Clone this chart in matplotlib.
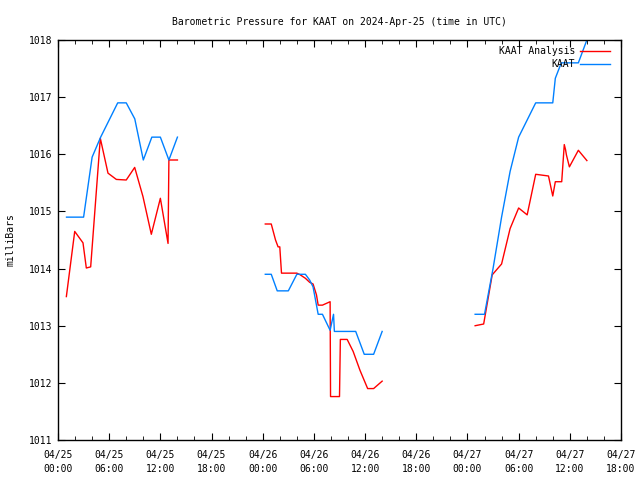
import numpy as np
import matplotlib
matplotlib.use('Agg')
import matplotlib.pyplot as plt

# hours since 2024-04-25 00:00 UTC, nan = gap in the record
anl_hours = [0.98, 1.96, 2.93, 3.32, 3.83, 4.96, 5.86, 6.84, 8.0, 8.99, 9.96, 10.94, 12.0, 12.9, 13.0, 14.0,
             np.nan,
             24.3, 25.0, 25.5, 25.8, 26.0, 26.2, 28.0, 28.4, 29.0, 29.5, 29.9, 30.3, 30.5, 31.0, 31.9, 31.95,
             33.0, 33.1, 33.9, 34.6, 35.4, 36.3, 37.0, 38.0,
             np.nan,
             48.9, 49.9, 50.9, 52.0, 53.0, 54.0, 55.0, 56.0, 57.5, 58.0, 58.3, 59.05, 59.35, 59.5, 59.6,
             59.95, 61.0, 62.0]
anl_mb = [1013.51, 1014.65, 1014.45, 1014.01, 1014.03, 1016.28, 1015.67, 1015.56, 1015.55, 1015.77,
          1015.26, 1014.60, 1015.23, 1014.44, 1015.90, 1015.90,
          np.nan,
          1014.78, 1014.78, 1014.50, 1014.38, 1014.38, 1013.92, 1013.92, 1013.89, 1013.83, 1013.76,
          1013.73, 1013.54, 1013.36, 1013.36, 1013.42, 1011.76, 1011.76, 1012.76, 1012.76, 1012.55,
          1012.22, 1011.90, 1011.90, 1012.03,
          np.nan,
          1013.00, 1013.03, 1013.89, 1014.08, 1014.70, 1015.06, 1014.94, 1015.65, 1015.62, 1015.27,
          1015.52, 1015.52, 1016.17, 1016.08, 1015.99, 1015.78, 1016.07, 1015.89]

obs_hours = [1.0, 2.0, 3.0, 4.0, 5.0, 6.0, 7.0, 8.0, 9.0, 10.0, 11.0, 12.0, 13.0, 14.0,
             np.nan,
             24.3, 25.0, 25.7, 27.0, 28.0, 29.0, 29.5, 29.9, 30.5, 31.0, 31.9, 32.3, 32.4, 34.9, 35.9,
             37.0, 38.0,
             np.nan,
             48.9, 50.0, 51.0, 52.0, 53.0, 54.0, 55.0, 56.0, 57.0, 58.0, 58.3, 59.0, 60.0, 61.0, 62.0]
obs_mb = [1014.9, 1014.9, 1014.9, 1015.95, 1016.3, 1016.6, 1016.9, 1016.9, 1016.62, 1015.9, 1016.3,
          1016.3, 1015.9, 1016.3,
          np.nan,
          1013.9, 1013.9, 1013.61, 1013.61, 1013.9, 1013.9, 1013.8, 1013.68, 1013.2, 1013.2, 1012.92,
          1013.2, 1012.9, 1012.9, 1012.5, 1012.5, 1012.9,
          np.nan,
          1013.2, 1013.2, 1014.0, 1014.9, 1015.7, 1016.3, 1016.6, 1016.9, 1016.9, 1016.9, 1017.33,
          1017.6, 1017.6, 1017.6, 1018.0]

xtick_labels = ['04/25\n00:00', '04/25\n06:00', '04/25\n12:00', '04/25\n18:00',
                '04/26\n00:00', '04/26\n06:00', '04/26\n12:00', '04/26\n18:00',
                '04/27\n00:00', '04/27\n06:00', '04/27\n12:00', '04/27\n18:00']

plt.rcParams['font.family'] = 'DejaVu Sans Mono'
plt.rcParams['font.size'] = 7

fig = plt.figure(figsize=(6.4, 4.8), dpi=100)
ax = fig.add_axes([58/640, 40/480, 563/640, 400/480])

ax.plot(anl_hours, anl_mb, color='#ff0000', lw=1, label='KAAT Analysis')
ax.plot(obs_hours, obs_mb, color='#0080ff', lw=1, label='KAAT')

ax.set_xlim(0, 66)
ax.set_ylim(1011, 1018)
ax.set_xticks(np.arange(0, 67, 6))
ax.set_xticks(np.arange(0, 67, 2), minor=True)
ax.set_xticklabels(xtick_labels, linespacing=1.5)
ax.set_yticks(np.arange(1011, 1019, 1))
ax.tick_params(which='both', direction='in', top=True, right=True, color='black')
ax.tick_params(which='major', length=5, pad=4)
ax.tick_params(axis='x', which='major', pad=7)
ax.tick_params(which='minor', length=3)
for s in ax.spines.values():
    s.set_linewidth(1)

ax.set_title('Barometric Pressure for KAAT on 2024-Apr-25 (time in UTC)', fontsize=7, pad=11)
ax.set_ylabel('milliBars')
ax.yaxis.set_label_coords(-0.075, 0.5)

leg = ax.legend(loc='upper right', frameon=False, markerfirst=False, handlelength=3.1,
                bbox_to_anchor=(1 - 11/563, 1 - 6/400), borderaxespad=0, borderpad=0,
                labelspacing=0.35, handletextpad=0.5)
for t in leg.get_texts():
    t.set_ha('right')

fig.savefig('out.png', dpi=100)
